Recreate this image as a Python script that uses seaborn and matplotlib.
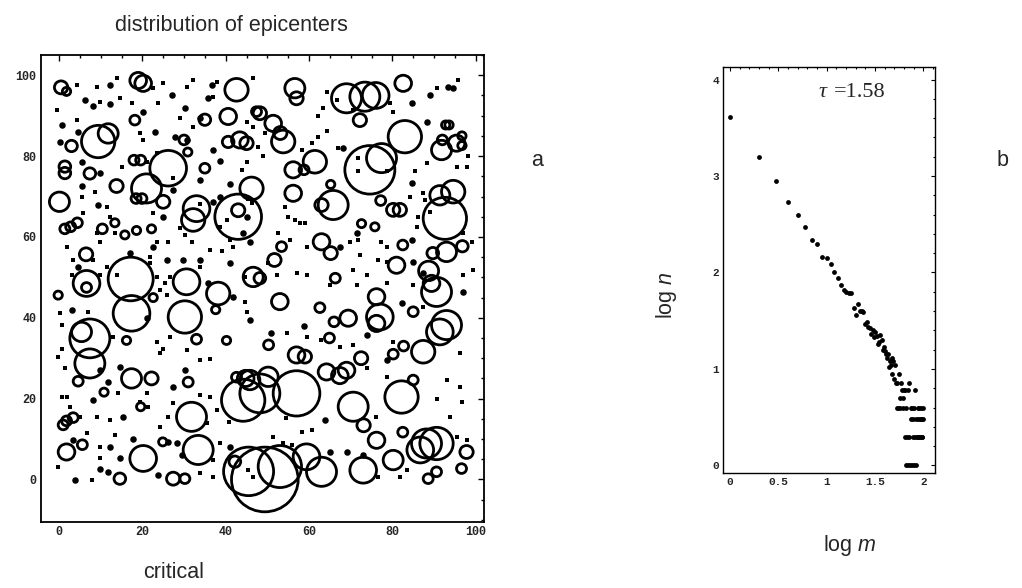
import numpy as np
import pandas as pd
import matplotlib
matplotlib.use("Agg")
import matplotlib.pyplot as plt
import seaborn as sns
from matplotlib.patches import Circle
from matplotlib.ticker import MultipleLocator

# ---------------- data: panel a (epicenters) ----------------
# circles: centre x, centre y, radius (data units)
circ_x = [0.5, 1.8, 19.0, 20.2, 9.4, 11.8, 3.0, 18.2, 18.0, 19.6, 26.2, 21.0, 13.8, 0.1, 1.4, 2.8, 4.4,
          33.0, 32.2, 43.0, 43.0, 40.6, 42.6, 43.4, 35.0, 7.4, 1.4, 1.4, 18.5, 19.9, 25.0, 13.4, 10.4, 15.8,
          18.6, 22.2, 6.5, 30.0, 30.9, 17.2, 47.4, 45.0, 35.0, 40.6,
          56.6, 57.0, 69.0, 73.4, 76.0, 72.2, 82.6, 48.2, 51.4, 53.8, 53.1, 83.0, 74.6, 77.4, 91.8, 95.4,
          92.8, 93.6, 96.7, 96.7, 92.0, 56.2, 58.8, 61.4, 65.2, 65.8, 63.0, 46.2, 56.2, 80.2, 81.8, 77.2,
          75.8, 72.6, 92.6, 94.6, 91.4, 93.0, 89.7, 96.8, 82.5, 63.0, 65.2, 81.0, 88.7, 53.4, 51.7, 46.6,
          -0.2, 6.6, 6.6, 17.4, 30.2, 30.6, 38.2, 7.4, 5.4, 7.4, 4.6, 16.2, 17.4, 22.2, 33.0, 31.0, 44.2,
          31.8, 33.4, 20.2, 1.8, 5.6, 1.0, 1.8, 3.4, 14.6, 27.4, 30.2, 42.2, 10.8, 19.6, 24.9, 37.6, 40.2,
          42.6, 44.8, 22.6,
          48.2, 66.3, 90.6, 89.4, 76.2, 53.0, 62.6, 69.4, 66.0, 77.0, 76.2, 93.0, 91.4, 87.4, 85.0, 64.9,
          50.3, 57.0, 59.0, 72.5, 64.2, 69.0, 82.7, 80.2, 57.0, 48.2, 45.8, 50.2, 67.4, 70.6, 73.1, 82.2,
          85.0, 82.5, 76.2, 80.2, 88.2, 90.6, 86.7, 97.8, 96.6, 90.6, 88.6, 49.4, 45.5, 53.0, 59.4, 63.0,
          73.0]
circ_y = [97.0, 96.0, 98.7, 98.0, 83.6, 85.6, 82.5, 88.9, 79.0, 79.0, 77.0, 72.0, 72.6, 68.7, 62.0, 62.5,
          63.5, 67.0, 64.2, 65.0, 66.6, 89.8, 96.4, 84.0, 89.0, 75.7, 77.4, 75.8, 69.5, 69.5, 68.7, 63.5,
          62.0, 60.5, 61.6, 62.0, 55.7, 84.0, 81.0, 49.6, 91.0, 83.2, 77.0, 83.5,
          96.8, 94.3, 94.3, 94.7, 95.0, 88.9, 98.0, 90.6, 88.1, 83.6, 85.7, 84.8, 76.6, 79.5, 81.5, 83.2,
          87.7, 87.7, 85.0, 82.6, 84.0, 76.6, 76.6, 78.6, 73.0, 67.9, 67.9, 72.0, 70.8, 66.7, 66.7, 69.0,
          62.5, 63.3, 64.6, 71.2, 70.3, 56.3, 56.0, 57.7, 58.0, 58.8, 56.0, 53.0, 51.6, 57.6, 54.3, 50.1,
          45.6, 48.5, 47.5, 41.1, 40.2, 48.9, 46.0, 34.9, 36.5, 28.7, 24.3, 34.4, 25.0, 25.0, 34.7, 24.1,
          19.6, 15.5, 7.3, 5.2, 6.8, 8.6, 13.5, 14.5, 15.3, 0.2, 0.2, 0.2, 4.4, 21.6, 18.0, 9.3, 42.0, 34.4,
          25.3, 25.0, 45.0,
          49.8, 49.8, 46.4, 48.5, 45.2, 44.0, 42.5, 39.9, 39.0, 40.2, 38.6, 38.2, 36.5, 31.6, 41.5, 35.0,
          33.3, 30.8, 30.4, 30.0, 26.6, 27.0, 33.0, 31.0, 21.3, 21.3, 24.6, 25.4, 25.7, 18.0, 13.4, 20.4,
          24.6, 11.7, 9.7, 4.8, 8.9, 8.9, 7.3, 6.8, 2.7, 1.9, 0.2, 0.0, 2.0, 3.2, 5.6, 1.9,
          2.3]
circ_r = [1.6, 1.0, 2.0, 2.0, 4.0, 2.4, 1.4, 1.2, 1.2, 1.2, 4.4, 3.6, 1.6, 2.4, 1.2, 1.2, 1.2,
          3.2, 2.8, 5.6, 1.6, 2.0, 2.8, 2.0, 1.4, 1.4, 1.4, 1.4, 1.2, 1.2, 1.6, 1.0, 1.2, 1.0,
          1.0, 1.0, 1.6, 1.2, 1.0, 5.4, 1.2, 1.6, 1.2, 1.4,
          2.4, 1.6, 3.6, 3.6, 3.2, 1.6, 2.0, 1.6, 2.0, 2.8, 1.6, 4.0, 6.0, 3.6, 2.4, 2.0,
          1.0, 1.0, 1.0, 1.0, 1.2, 2.0, 1.2, 2.8, 1.0, 3.6, 1.6, 2.8, 2.0, 1.6, 1.6, 1.2,
          1.0, 1.0, 5.2, 2.8, 2.4, 2.4, 1.4, 1.4, 1.2, 2.0, 1.6, 2.0, 2.4, 1.2, 1.6, 2.4,
          1.0, 3.2, 1.2, 4.4, 4.0, 3.2, 2.8, 4.8, 2.4, 3.6, 1.2, 1.0, 2.4, 1.6, 1.2, 1.2,
          5.2, 3.6, 3.6, 3.2, 2.0, 1.2, 1.2, 1.2, 1.2, 1.4, 1.6, 1.2, 1.4, 1.0, 1.0, 1.0, 1.0, 1.0,
          1.2, 2.0, 1.0,
          1.4, 1.2, 3.6, 2.0, 2.0, 2.0, 1.2, 2.0, 1.2, 3.2, 2.0, 3.6, 3.2, 2.8, 1.2, 1.2,
          1.2, 2.0, 1.6, 1.6, 2.0, 2.0, 1.2, 1.2, 5.6, 4.8, 2.4, 2.4, 2.0, 3.6, 1.6, 4.0,
          1.2, 1.2, 2.0, 2.4, 3.6, 4.0, 3.2, 1.6, 1.2, 1.2, 1.2, 8.0, 6.0, 5.2, 3.2, 3.6,
          3.2]

# filled epicentre dots (larger)
big_x = [0.6, 4.6, 12.2, 6.2, 8.2, 27.0, 30.2, 33.8, 20.2, 23.0, 27.8, 30.6, 37.0, 0.2, 9.8, 5.4, 27.4,
         25.0, 9.4, 38.6, 41.0, 5.4, 35.8, 36.6, 12.2, 33.8, 29.8, 25.8, 17.0, 4.6, 41.0, 44.2, 37.0, 38.6,
         33.8, 22.6, 84.6, 89.0, 93.4, 68.2, 84.6, 45.0, 71.4, 67.4, 84.6, 45.8, 85.0, 87.4,
         35.8, 41.8, 3.0, 21.0, 9.8, 11.8, 14.6, 27.4, 30.2, 8.2, 15.4, 3.4, 12.2, 14.6, 9.8, 11.8, 3.8,
         17.8, 26.2, 28.2, 29.4, 23.8, 41.0, 97.0, 82.2, 45.8, 50.8, 58.8, 73.8, 78.6, 63.9, 65.0, 69.0,
         73.0, 88.3, 94.6]
big_y = [87.7, 86.0, 93.0, 93.9, 92.3, 95.1, 92.0, 89.5, 91.0, 86.0, 84.8, 84.0, 81.5, 83.6, 75.7, 78.6,
         71.6, 65.0, 68.0, 78.7, 73.0, 72.6, 94.3, 97.6, 97.6, 54.3, 54.3, 54.3, 56.0, 52.6, 53.5, 60.9,
         68.7, 70.0, 74.0, 57.6, 93.1, 95.1, 97.2, 81.9, 73.3, 65.0, 60.9, 57.6, 59.2, 58.8, 53.9, 51.0,
         48.5, 45.2, 41.9, 39.9, 27.1, 24.2, 27.9, 22.9, 27.1, 19.6, 15.5, 9.7, 8.1, 5.2, 2.7, 1.9, -0.2,
         10.1, 9.3, 8.9, 6.0, 1.1, 8.1, 46.5, 43.6, 39.4, 36.3, 38.0, 35.7, 29.5, 14.7, 6.8, 6.8,
         6.0, 88.5, 96.8]

# tiny epicentre dots
tiny_x = [-0.6, 4.2, 9.8, 14.6, 17.4, 19.4, 20.2, 21.0, 27.4, 29.0, 30.2, 31.8, 9.0, 9.8, 1.8, 3.4, 8.2,
          11.4, 21.8, 23.4, 26.2, 36.2, 39.0, 41.8, 22.6, 12.2, 13.4, 5.4, 15.0, 8.6, 11.4, 5.8, 23.4, 26.6,
          33.8, 38.6, 4.2, 9.0, 13.8, 22.6, 25.0, 30.6, 32.2, 37.8, 37.0, 23.8, 29.0, 32.2, 23.4, 33.8, 40.2,
          45.4, 41.0, 21.8,
          46.6, 64.2, 66.6, 63.4, 62.2, 70.6, 79.4, 80.2, 90.6, 95.8, 45.0, 46.6, 49.4, 47.8, 49.0, 45.0,
          43.8, 58.2, 60.6, 62.2, 64.2, 67.0, 71.8, 71.8, 78.6, 85.4, 88.2, 95.4, 97.8, 98.2, 84.2, 87.4,
          87.8, 46.2, 54.2, 55.0, 56.6, 57.8, 59.0, 52.6, 55.4, 59.4, 69.9, 71.8, 77.2, 78.6, 85.8, 86.2,
          89.0, 50.2, 57.0, 70.6, 72.2, 76.6, 78.6, 99.4, 99.0, 97.0,
          3.0, 9.8, 13.8, 23.4, 24.2, 25.8, 25.4, 44.6, 0.2, 0.6, 7.0, 13.0, 23.4, 25.0, 26.6, 0.6, -0.2,
          1.4, 24.2, 30.6, 33.8, 36.2, 0.6, 1.8, 2.6, 5.0, 9.0, 14.2, 12.2, 13.4, 19.4, 21.4, 21.0, 27.4,
          26.2, 24.2, 33.8, 36.2, 37.8, 35.4, 40.9, 6.6, 9.8, 9.8, 7.8, 33.8, 37.0, 37.0, 38.6, -0.2,
          44.6, 52.2, 59.4, 65.0, 71.4, 73.8, 78.6, 85.0, 97.0, 87.4, 45.0, 54.8, 59.6, 62.8, 67.4, 70.6,
          80.2, 73.8, 78.6, 96.2, 93.0, 96.2, 96.6, 90.6, 58.2, 60.6, 76.6, 81.8, 83.4, 97.8, 93.8, 95.4,
          45.4, 46.6, 51.4, 53.8, 55.8, 76.0, 54.4]
tiny_y = [91.4, 88.9, 93.5, 94.3, 93.1, 85.6, 84.0, 78.6, 74.5, 62.1, 60.5, 58.8, 60.9, 58.8, 57.6, 54.3,
          54.3, 52.6, 53.5, 58.8, 58.8, 56.8, 56.4, 57.6, 65.8, 65.0, 60.9, 70.0, 77.4, 71.2, 67.5, 65.8,
          50.2, 50.2, 52.6, 62.5, 97.6, 97.2, 99.3, 96.8, 98.0, 97.2, 98.8, 98.4, 94.7, 93.1, 89.4, 87.3,
          80.7, 68.2, 64.2, 69.5, 59.2, 55.1,
          99.3, 95.9, 93.9, 91.8, 89.8, 91.4, 93.1, 91.0, 96.8, 98.8, 88.5, 87.3, 85.6, 82.3, 79.9, 78.6,
          76.6, 81.5, 83.2, 84.8, 86.1, 81.9, 79.5, 76.2, 76.2, 76.2, 78.2, 77.4, 77.4, 79.9, 70.0, 70.8,
          69.1, 68.3, 67.5, 65.0, 64.2, 63.4, 63.4, 60.9, 59.2, 57.6, 58.8, 59.2, 58.8, 57.6, 62.5, 65.0,
          66.2, 53.5, 51.0, 51.8, 55.5, 54.3, 53.9, 51.8, 58.8, 60.9,
          50.6, 50.6, 50.6, 50.2, 46.9, 45.6, 48.5, 44.0, 41.1, 38.2, 41.5, 35.3, 34.1, 32.4, 35.3, 32.4,
          30.4, 27.5, 31.2, 32.0, 29.5, 29.9, 20.5, 20.5, 18.0, 15.5, 15.5, 21.3, 14.7, 11.0, 19.2, 18.0,
          21.3, 18.8, 15.5, 13.0, 20.9, 20.5, 17.2, 13.9, 14.3, 11.4, 8.1, 5.2, -0.2, 1.5, 0.7, 4.8, 8.9,
          3.1,
          50.2, 50.6, 50.6, 48.1, 48.1, 50.6, 48.5, 48.1, 50.6, 42.7, 41.5, 36.3, 35.3, 34.5, 32.8, 33.3,
          34.1, 27.5, 25.4, 31.2, 24.6, 22.9, 19.2, 20.0, 11.8, 12.2, 0.7, 0.7, 2.3, 9.7, 15.5, 10.6,
          2.3, 0.7, 10.6, 8.9, 8.5, 15.5, 15.1]

# ---------------- data: panel b (log-log distribution) ----------------
log_m = [0.000, 0.301, 0.477, 0.602, 0.699, 0.778, 0.845, 0.903, 0.954, 1.000,
         1.041, 1.079, 1.114, 1.146, 1.176, 1.204, 1.230, 1.255, 1.279, 1.301,
         1.322, 1.342, 1.362, 1.380, 1.398, 1.415, 1.431, 1.447, 1.462, 1.477,
         1.491, 1.505, 1.519, 1.531, 1.544, 1.556, 1.568, 1.580, 1.591, 1.602,
         1.613, 1.623, 1.633, 1.643, 1.653, 1.663, 1.672, 1.681, 1.690, 1.699,
         1.708, 1.716, 1.724, 1.732, 1.740, 1.748, 1.756, 1.763, 1.771, 1.778,
         1.785, 1.792, 1.799, 1.806, 1.813, 1.820, 1.826, 1.833, 1.839, 1.845,
         1.851, 1.857, 1.863, 1.869, 1.875, 1.881, 1.886, 1.892, 1.898, 1.903,
         1.908, 1.914, 1.919, 1.924, 1.929, 1.934, 1.940, 1.944, 1.949, 1.954,
         1.959, 1.964, 1.968, 1.973, 1.978, 1.982, 1.987, 1.991, 1.996, 2.000]
log_n = [3.61, 3.20, 2.95, 2.73, 2.60, 2.47, 2.34, 2.30, 2.16, 2.15,
         2.09, 2.00, 1.94, 1.87, 1.82, 1.80, 1.79, 1.79, 1.63, 1.56,
         1.67, 1.60, 1.60, 1.59, 1.47, 1.49, 1.44, 1.42, 1.36, 1.40,
         1.33, 1.38, 1.34, 1.26, 1.28, 1.35, 1.30, 1.20, 1.23, 1.19,
         1.15, 1.11, 1.16, 1.02, 1.08, 1.04, 1.11, 0.95, 1.08, 0.90,
         1.04, 0.85, 0.60, 0.85, 0.60, 0.95, 0.70, 0.60, 0.85, 0.78,
         0.70, 0.60, 0.78, 0.30, 0.78, 0.00, 0.60, 0.30, 0.78, 0.00,
         0.85, 0.30, 0.00, 0.60, 0.48, 0.00, 0.60, 0.30, 0.48, 0.00,
         0.60, 0.30, 0.78, 0.48, 0.00, 0.30, 0.60, 0.48, 0.30, 0.60,
         0.30, 0.48, 0.30, 0.48, 0.60, 0.30, 0.48, 0.30, 0.60, 0.48]
tau_label = "=1.58"

x_ticks_a = [0, 20, 40, 60, 80, 100]
y_ticks_a = [0, 20, 40, 60, 80, 100]
x_ticks_b = [0, 0.5, 1, 1.5, 2]
x_tick_labels_b = ["0", "0.5", "1", "1.5", "2"]
y_ticks_b = [0, 1, 2, 3, 4]

# ---------------- drawing ----------------
sns.set_theme(style="white")
plt.rcParams["font.family"] = ["Liberation Sans", "DejaVu Sans"]
plt.rcParams["mathtext.fontset"] = "custom"
plt.rcParams["mathtext.rm"] = "Liberation Sans"
plt.rcParams["mathtext.it"] = "Liberation Sans:italic"

fig = plt.figure(figsize=(10.22, 5.88), dpi=100)
fig.patch.set_facecolor("white")

tick_font_a = dict(family="Liberation Mono", weight="bold", size=8.5)
tick_font_b = dict(family="Liberation Mono", weight="bold", size=8)

# panel a
axA = fig.add_axes([0.0398, 0.1117, 0.4338, 0.7947])
for cx, cy, r in zip(circ_x, circ_y, circ_r):
    axA.add_patch(Circle((cx, cy), r, fill=False, edgecolor="black", linewidth=2.0))
sns.scatterplot(x=big_x, y=big_y, ax=axA, color="black", s=22, linewidth=0, legend=False)
sns.scatterplot(x=tiny_x, y=tiny_y, ax=axA, color="black", s=6, marker="s", linewidth=0, legend=False)
axA.set_xlim(-4.4, 102)
axA.set_ylim(-10.6, 105)
axA.set_xticks(x_ticks_a)
axA.set_yticks(y_ticks_a)
axA.set_xticklabels([str(v) for v in x_ticks_a], fontdict=tick_font_a)
axA.set_yticklabels([str(v) for v in y_ticks_a], fontdict=tick_font_a)
axA.xaxis.set_minor_locator(MultipleLocator(5))
axA.yaxis.set_minor_locator(MultipleLocator(5))
axA.tick_params(which="both", direction="in", top=True, right=True, color="black", width=1)
axA.tick_params(which="major", length=4, pad=3)
axA.tick_params(which="minor", length=2)
for s in axA.spines.values():
    s.set_color("black")
    s.set_linewidth(1.3)
axA.set_xlabel("")
axA.set_ylabel("")

# panel b
axB = fig.add_axes([0.7074, 0.1961, 0.2074, 0.6900])
sns.scatterplot(x=log_m, y=log_n, ax=axB, color="black", s=12, linewidth=0, legend=False)
axB.set_xlim(-0.072, 2.12)
axB.set_ylim(-0.075, 4.13)
axB.set_xticks(x_ticks_b)
axB.set_yticks(y_ticks_b)
axB.set_xticklabels(x_tick_labels_b, fontdict=tick_font_b)
axB.set_yticklabels([str(v) for v in y_ticks_b], fontdict=tick_font_b)
axB.xaxis.set_minor_locator(MultipleLocator(0.1))
axB.yaxis.set_minor_locator(MultipleLocator(0.2))
axB.tick_params(which="both", direction="in", top=True, right=True, color="black", width=0.8)
axB.tick_params(which="major", length=3, pad=3)
axB.tick_params(which="minor", length=1.5)
for s in axB.spines.values():
    s.set_color("black")
    s.set_linewidth(1.0)
axB.set_xlabel("")
axB.set_ylabel("")
axB.text(0.92, 3.87, "\u03c4", fontsize=16, family="Liberation Serif", style="italic",
         ha="left", va="center")
axB.text(1.08, 3.87, tau_label, fontsize=16, family="Liberation Serif", ha="left", va="center")

# figure texts
fig.text(231.7 / 1022, 1 - 25 / 588, "distribution of epicenters", fontsize=15.5,
         ha="center", va="center")
fig.text(174 / 1022, 1 - 573 / 588, "critical", fontsize=15.5, ha="center", va="center")
fig.text(537 / 1022, 1 - 160 / 588, "a", fontsize=15.5, ha="center", va="center")
fig.text(1003 / 1022, 1 - 160 / 588, "b", fontsize=15.5, ha="center", va="center")
fig.text(666 / 1022, 1 - 295 / 588, "log $n$", fontsize=15.5, ha="center", va="center",
         rotation=90)
fig.text(850 / 1022, 1 - 546 / 588, "log $m$", fontsize=15.5, ha="center", va="center")

fig.savefig("out.png", dpi=100, facecolor="white")
